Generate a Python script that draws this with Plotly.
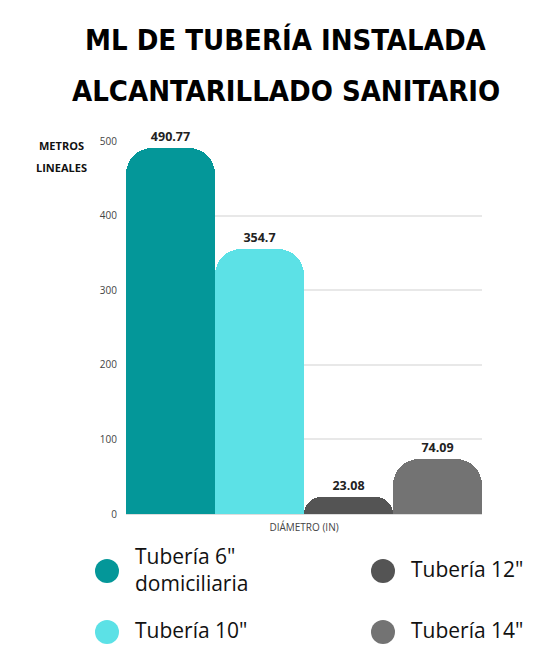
import plotly.graph_objects as go

# Datos
tuberias = ['Tubería 6"<br>domiciliaria', 'Tubería 10"', 'Tubería 12"', 'Tubería 14"']
metros = [490.77, 354.7, 23.08, 74.09]
etiquetas = ['490.77', '354.7', '23.08', '74.09']
colores = ['#049799', '#5ce1e6', '#545454', '#737373']
eje_y = [0, 100, 200, 300, 400, 500]
categoria = ['DIÁMETRO (IN)']
titulo = ['ML DE TUBERÍA INSTALADA', 'ALCANTARILLADO SANITARIO']
eje_titulo = ['METROS', 'LINEALES']

# la pagina tiene un margen de 8px, se descuenta
O = 8
W, H = 534 - O, 649 - O
L, R, T, B = 126 - O, 52, 141 - O, 135
pw, ph = W - L - R, H - T - B

def px_x(px):
    return (px - O - L) / pw

def px_y(py):
    return (H - B - (py - O)) / ph

fig = go.Figure()
for nombre, valor, txt, color in zip(tuberias, metros, etiquetas, colores):
    fig.add_trace(go.Bar(x=categoria, y=[valor], name=nombre,
                         marker=dict(color=color, line=dict(width=0)),
                         text=[txt], textposition='outside', cliponaxis=False,
                         textfont=dict(family='Open Sans', size=12.5, color='#222222', weight='bold'),
                         showlegend=False))

# Leyenda manual (circulos)
shapes, annots = [], []
for i, (nombre, color) in enumerate(zip(tuberias, colores)):
    col, row = i // 2, i % 2
    cx = [107, 383][col]
    cy = [571, 632][row]
    shapes.append(dict(type='circle', xref='paper', yref='paper',
                       xsizemode='pixel', ysizemode='pixel',
                       xanchor=px_x(cx), yanchor=px_y(cy),
                       x0=-12, x1=12, y0=-12, y1=12,
                       fillcolor=color, line=dict(width=0)))
    annots.append(dict(text=nombre, x=px_x(cx + 26), y=px_y(cy - 2), xref='paper', yref='paper',
                       xanchor='left', yanchor='middle', align='left', showarrow=False,
                       font=dict(family='Open Sans', size=21, color='#111111')))

for txt, yy in zip(eje_titulo, [145, 167]):
    annots.append(dict(text='<b>' + txt + '</b>', x=px_x(61), y=px_y(yy), xref='paper', yref='paper',
                       xanchor='center', yanchor='middle', showarrow=False,
                       font=dict(family='Open Sans', size=11, color='#111111')))

for txt, yy in zip(titulo, [40, 91]):
    annots.append(dict(text='<b>' + txt + '</b>', x=px_x(286), y=px_y(yy), xref='paper', yref='paper',
                       xanchor='center', yanchor='middle', showarrow=False,
                       font=dict(family='DejaVu Sans Condensed, Liberation Sans Narrow, DejaVu Sans',
                                 size=29, color='black')))

fig.update_layout(
    width=W, height=H,
    margin=dict(l=L, r=R, t=T, b=B),
    paper_bgcolor='white', plot_bgcolor='white',
    barmode='group', bargap=0, bargroupgap=0, barcornerradius=26,
    xaxis=dict(showgrid=False, showline=True, linecolor='#dddddd', linewidth=1,
               tickfont=dict(family='Open Sans', size=10, color='#444444'), ticks='',
               ticklabelstandoff=4),
    yaxis=dict(range=[0, 500], tickvals=eje_y, showgrid=True, gridcolor='#e8e8e8', gridwidth=2,
               zeroline=False, ticks='', ticklabelstandoff=8,
               tickfont=dict(family='Open Sans', size=10, color='#444444')),
    shapes=shapes, annotations=annots,
)

fig.write_html("out.html")
